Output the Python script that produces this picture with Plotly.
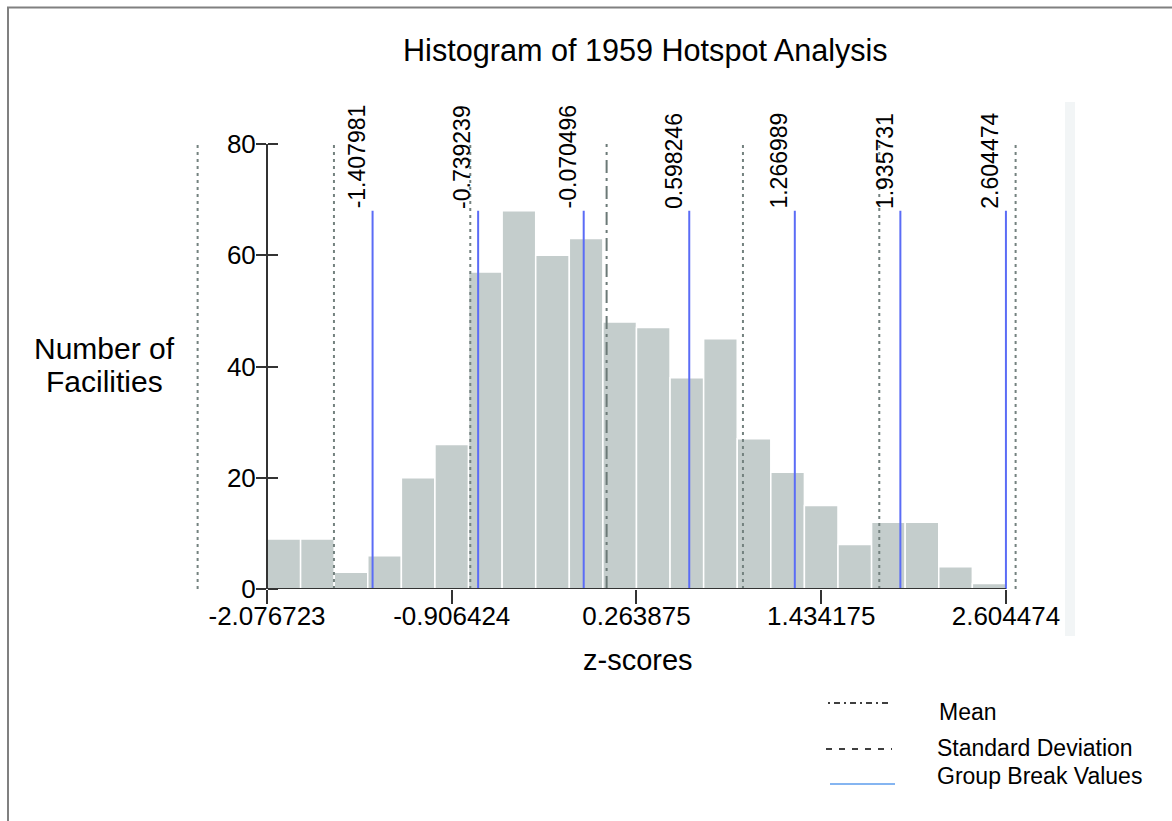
import numpy as np
import plotly.graph_objects as go

# ---------------- data ----------------
COUNTS = [9, 9, 3, 6, 20, 26, 57, 68, 60, 63, 48, 47, 38, 45, 27, 21, 15, 8, 12, 12, 4, 1]
Z_MIN = -2.076723
Z_MAX = 2.604474
X_TICKS = [-2.076723, -0.906424, 0.263875, 1.434175, 2.604474]
X_TICK_LABELS = ["-2.076723", "-0.906424", "0.263875", "1.434175", "2.604474"]
Y_TICKS = [0, 20, 40, 60, 80]
BREAKS = [-1.407981, -0.739239, -0.070496, 0.598246, 1.266989, 1.935731, 2.604474]
BREAK_LABELS = ["-1.407981", "-0.739239", "-0.070496", "0.598246", "1.266989", "1.935731", "2.604474"]
MEAN = 0.0747
SD = 0.8637
SD_MULTIPLES = [-3, -2, -1, 1, 2, 3]
X_RANGE = [-2.628, 2.947]
Y_RANGE = [0, 80]

TITLE = "Histogram of 1959 Hotspot Analysis"
FONT = "Liberation Sans, Arial, sans-serif"

# ---------------- layout geometry ----------------
W, H = 1172, 821
ML, MR, MT, MB = 180, 112, 144, 232
PW, PH = W - ML - MR, H - MT - MB


def px(xp):
    return (xp - ML) / PW


def py(yp):
    return (H - MB - yp) / PH


edges = np.linspace(Z_MIN, Z_MAX, len(COUNTS) + 1)
centers = (edges[:-1] + edges[1:]) / 2
bin_w = edges[1] - edges[0]

fig = go.Figure()

fig.add_trace(go.Bar(
    x=centers, y=COUNTS, width=bin_w,
    marker=dict(color="#c4cdcc", line=dict(color="white", width=1.5)),
    hoverinfo="x+y", showlegend=False,
))


def vlines(values, y0, y1):
    xs, ys = [], []
    for v in values:
        xs += [v, v, None]
        ys += [y0, y1, None]
    return xs, ys


sd_vals = [MEAN + k * SD for k in SD_MULTIPLES]
xs, ys = vlines(sd_vals, Y_RANGE[0], Y_RANGE[1])
fig.add_trace(go.Scatter(x=xs, y=ys, mode="lines", showlegend=False,
                         line=dict(color="#74827f", width=2, dash="3px,4px"),
                         hoverinfo="skip"))

xs, ys = vlines([MEAN], Y_RANGE[0], Y_RANGE[1])
fig.add_trace(go.Scatter(x=xs, y=ys, mode="lines", showlegend=False,
                         line=dict(color="#6b7977", width=2, dash="13px,5px,3px,5px"),
                         hoverinfo="skip"))

xs, ys = vlines(BREAKS, 0, max(COUNTS))
fig.add_trace(go.Scatter(x=xs, y=ys, mode="lines", showlegend=False,
                         line=dict(color="#5b6cf6", width=2),
                         hoverinfo="skip"))

# dummy trace for the inner-tick overlay axis
fig.add_trace(go.Scatter(x=[None], y=[None], yaxis="y2", showlegend=False, hoverinfo="skip"))

annotations = []
for v, lab in zip(BREAKS, BREAK_LABELS):
    annotations.append(dict(
        x=v, y=max(COUNTS), xref="x", yref="y", text=lab, textangle=-90,
        showarrow=False, xanchor="center", yanchor="bottom", xshift=-16, yshift=0,
        font=dict(family=FONT, size=23, color="black"),
    ))

# title
annotations.append(dict(x=px(645), y=py(50), xref="paper", yref="paper", text=TITLE,
                        showarrow=False, xanchor="center", yanchor="middle",
                        font=dict(family=FONT, size=30.6, color="black")))
# y label
annotations.append(dict(x=px(104.5), y=py(348.5), xref="paper", yref="paper", text="Number of",
                        showarrow=False, xanchor="center", yanchor="middle",
                        font=dict(family=FONT, size=30, color="black")))
annotations.append(dict(x=px(104.5), y=py(381), xref="paper", yref="paper", text="Facilities",
                        showarrow=False, xanchor="center", yanchor="middle",
                        font=dict(family=FONT, size=30, color="black")))
# x label
annotations.append(dict(x=px(638), y=py(660), xref="paper", yref="paper", text="z-scores",
                        showarrow=False, xanchor="center", yanchor="middle",
                        font=dict(family=FONT, size=29, color="black")))

# legend
LEGEND = [("Mean", 937, 712), ("Standard Deviation", 935, 748), ("Group Break Values", 935, 775.5)]
for txt, xl, yc in LEGEND:
    annotations.append(dict(x=px(xl), y=py(yc), xref="paper", yref="paper", text=txt,
                            showarrow=False, xanchor="left", yanchor="middle",
                            font=dict(family=FONT, size=23, color="black")))

shapes = [
    # x axis line spanning the data extent
    dict(type="line", xref="x", yref="y", x0=Z_MIN, x1=Z_MAX, y0=0, y1=0,
         line=dict(color="#333333", width=2), layer="above"),
    # outer frame (left and top)
    dict(type="line", xref="paper", yref="paper", x0=px(8), x1=px(8), y0=py(7), y1=py(H),
         line=dict(color="#808080", width=2)),
    dict(type="line", xref="paper", yref="paper", x0=px(7), x1=px(W), y0=py(7.5), y1=py(7.5),
         line=dict(color="#808080", width=2)),
    # light band on the right
    dict(type="rect", xref="paper", yref="paper", x0=px(1065), x1=px(1075), y0=py(636), y1=py(102),
         fillcolor="#f2f5f6", line=dict(width=0), layer="below"),
    # legend lines
    dict(type="line", xref="paper", yref="paper", x0=px(828), x1=px(891), y0=py(703), y1=py(703),
         line=dict(color="black", width=1.5, dash="2px,4px,6px,4px")),
    dict(type="line", xref="paper", yref="paper", x0=px(826), x1=px(892), y0=py(749), y1=py(749),
         line=dict(color="black", width=1.5, dash="6px,7px")),
    dict(type="line", xref="paper", yref="paper", x0=px(830), x1=px(895), y0=py(784), y1=py(784),
         line=dict(color="#5d9cec", width=1.5)),
]

axis_pos = px(ML + (Z_MIN - X_RANGE[0]) / (X_RANGE[1] - X_RANGE[0]) * PW)

fig.update_layout(
    width=W, height=H,
    margin=dict(l=ML, r=MR, t=MT, b=MB, pad=0),
    paper_bgcolor="white", plot_bgcolor="white",
    showlegend=False,
    font=dict(family=FONT, color="black"),
    xaxis=dict(range=X_RANGE, tickvals=X_TICKS, ticktext=X_TICK_LABELS,
               ticks="outside", ticklen=14, tickwidth=2, tickcolor="#333333",
               ticklabelstandoff=-10,
               showline=False, showgrid=False, zeroline=False,
               tickfont=dict(family=FONT, size=26, color="black")),
    yaxis=dict(range=Y_RANGE, tickvals=Y_TICKS, anchor="free", position=axis_pos,
               ticks="outside", ticklen=10, tickwidth=2, tickcolor="#333333",
               ticklabelstandoff=-5,
               showline=True, linewidth=2, linecolor="#333333",
               showgrid=False, zeroline=False,
               tickfont=dict(family=FONT, size=26, color="black")),
    yaxis2=dict(range=Y_RANGE, tickvals=Y_TICKS, overlaying="y", anchor="free", position=axis_pos,
                side="right", ticks="outside", ticklen=10, tickwidth=2, tickcolor="#333333",
                showticklabels=False, showline=False, showgrid=False, zeroline=False),
    annotations=annotations,
    shapes=shapes,
)

fig.write_html("out.html", config={"displayModeBar": False},
               post_script="document.body.style.margin='0px';")
